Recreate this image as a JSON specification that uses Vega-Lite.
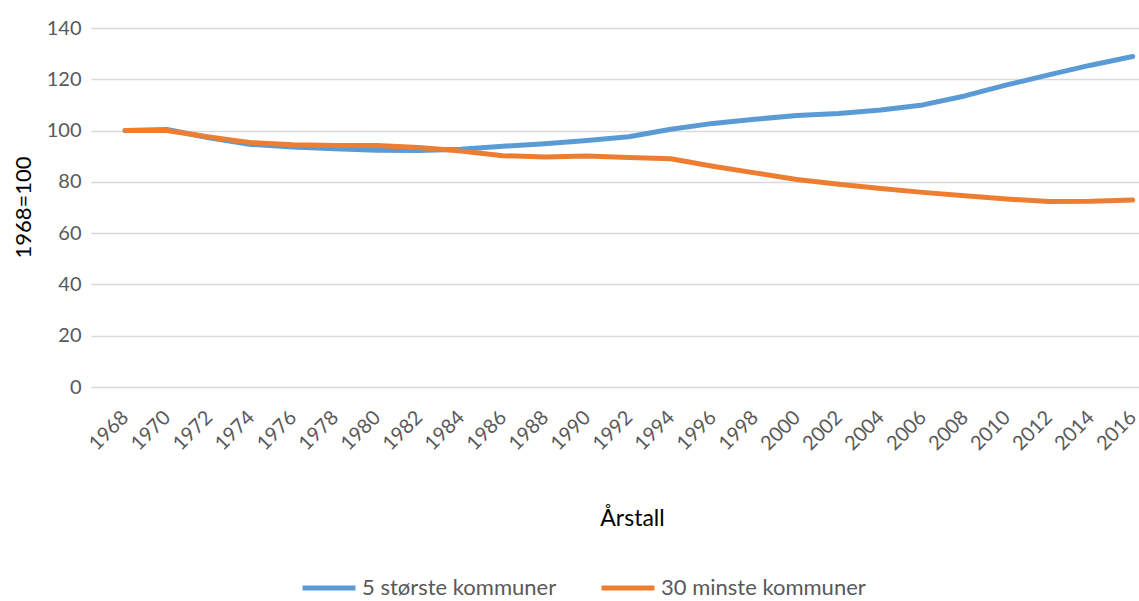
{
  "$schema": "https://vega.github.io/schema/vega-lite/v6.json",
  "autosize": {"type": "none"},
  "padding": {"left": 91, "top": 28, "right": 0, "bottom": 214},
  "width": 1048,
  "height": 359,
  "background": "white",
  "config": {
    "view": {"stroke": null},
    "font": "Lato",
    "axis": {"labelFont": "Lato", "titleFont": "Lato"},
    "legend": {"labelFont": "Lato"}
  },
  "data": {
    "values": [
      {"year": 1968, "series": "5 største kommuner", "value": 100.0},
      {"year": 1970, "series": "5 største kommuner", "value": 100.4},
      {"year": 1972, "series": "5 største kommuner", "value": 97.2},
      {"year": 1974, "series": "5 største kommuner", "value": 94.6},
      {"year": 1976, "series": "5 største kommuner", "value": 93.6},
      {"year": 1978, "series": "5 største kommuner", "value": 92.9},
      {"year": 1980, "series": "5 største kommuner", "value": 92.3},
      {"year": 1982, "series": "5 største kommuner", "value": 92.2},
      {"year": 1984, "series": "5 største kommuner", "value": 92.7},
      {"year": 1986, "series": "5 største kommuner", "value": 93.9},
      {"year": 1988, "series": "5 største kommuner", "value": 94.9},
      {"year": 1990, "series": "5 største kommuner", "value": 96.1},
      {"year": 1992, "series": "5 største kommuner", "value": 97.6},
      {"year": 1994, "series": "5 største kommuner", "value": 100.5},
      {"year": 1996, "series": "5 største kommuner", "value": 102.8},
      {"year": 1998, "series": "5 største kommuner", "value": 104.4},
      {"year": 2000, "series": "5 største kommuner", "value": 105.9},
      {"year": 2002, "series": "5 største kommuner", "value": 106.7},
      {"year": 2004, "series": "5 største kommuner", "value": 108.0},
      {"year": 2006, "series": "5 største kommuner", "value": 110.0},
      {"year": 2008, "series": "5 største kommuner", "value": 113.5},
      {"year": 2010, "series": "5 største kommuner", "value": 117.8},
      {"year": 2012, "series": "5 største kommuner", "value": 121.7},
      {"year": 2014, "series": "5 største kommuner", "value": 125.5},
      {"year": 2016, "series": "5 største kommuner", "value": 128.9},
      {"year": 1968, "series": "30 minste kommuner", "value": 100.0},
      {"year": 1970, "series": "30 minste kommuner", "value": 100.0},
      {"year": 1972, "series": "30 minste kommuner", "value": 97.5},
      {"year": 1974, "series": "30 minste kommuner", "value": 95.3},
      {"year": 1976, "series": "30 minste kommuner", "value": 94.5},
      {"year": 1978, "series": "30 minste kommuner", "value": 94.2},
      {"year": 1980, "series": "30 minste kommuner", "value": 94.2},
      {"year": 1982, "series": "30 minste kommuner", "value": 93.4},
      {"year": 1984, "series": "30 minste kommuner", "value": 92.0},
      {"year": 1986, "series": "30 minste kommuner", "value": 90.2},
      {"year": 1988, "series": "30 minste kommuner", "value": 89.7},
      {"year": 1990, "series": "30 minste kommuner", "value": 90.1},
      {"year": 1992, "series": "30 minste kommuner", "value": 89.5},
      {"year": 1994, "series": "30 minste kommuner", "value": 89.0},
      {"year": 1996, "series": "30 minste kommuner", "value": 86.1},
      {"year": 1998, "series": "30 minste kommuner", "value": 83.5},
      {"year": 2000, "series": "30 minste kommuner", "value": 80.9},
      {"year": 2002, "series": "30 minste kommuner", "value": 79.1},
      {"year": 2004, "series": "30 minste kommuner", "value": 77.4},
      {"year": 2006, "series": "30 minste kommuner", "value": 75.9},
      {"year": 2008, "series": "30 minste kommuner", "value": 74.6},
      {"year": 2010, "series": "30 minste kommuner", "value": 73.3},
      {"year": 2012, "series": "30 minste kommuner", "value": 72.3},
      {"year": 2014, "series": "30 minste kommuner", "value": 72.4},
      {"year": 2016, "series": "30 minste kommuner", "value": 72.9}
    ]
  },
  "mark": {"type": "line", "strokeWidth": 5, "strokeCap": "round", "strokeJoin": "round"},
  "encoding": {
    "x": {
      "field": "year",
      "type": "quantitative",
      "scale": {"domain": [1966.38, 2016.3], "nice": false, "zero": false},
      "axis": {
        "values": [1968, 1970, 1972, 1974, 1976, 1978, 1980, 1982, 1984, 1986, 1988, 1990, 1992, 1994, 1996, 1998, 2000, 2002, 2004, 2006, 2008, 2010, 2012, 2014, 2016],
        "format": "d",
        "labelAngle": -45,
        "labelAlign": "right",
        "labelBaseline": "middle",
        "labelPadding": 27,
        "labelOffset": 0,
        "labelFontSize": 20,
        "labelColor": "#595959",
        "labelOverlap": false,
        "labelFlush": false,
        "grid": false,
        "domain": false,
        "ticks": false,
        "title": "Årstall",
        "titleFontSize": 23,
        "titleFontWeight": "normal",
        "titleColor": "#000000",
        "titleX": 541,
        "titleY": 138,
        "titleAlign": "center",
        "titleBaseline": "alphabetic"
      }
    },
    "y": {
      "field": "value",
      "type": "quantitative",
      "scale": {"domain": [0, 140], "nice": false},
      "axis": {
        "values": [0, 20, 40, 60, 80, 100, 120, 140],
        "labelFontSize": 20,
        "labelColor": "#595959",
        "labelPadding": 10,
        "grid": true,
        "gridColor": "#D9D9D9",
        "gridWidth": 1.3,
        "domain": false,
        "ticks": false,
        "title": "1968=100",
        "titleFontSize": 22,
        "titleFontWeight": "normal",
        "titleColor": "#000000",
        "titleAngle": -90,
        "titleX": -68,
        "titleY": 179,
        "titleAlign": "center",
        "titleBaseline": "middle"
      }
    },
    "color": {
      "field": "series",
      "type": "nominal",
      "scale": {"domain": ["5 største kommuner", "30 minste kommuner"], "range": ["#5B9BD5", "#ED7D31"]},
      "legend": {
        "title": null,
        "orient": "none",
        "direction": "horizontal",
        "legendX": 209,
        "legendY": 531,
        "symbolType": "stroke",
        "symbolSize": 2800,
        "symbolStrokeWidth": 5,
        "labelFontSize": 22,
        "labelColor": "#595959",
        "labelOffset": 4,
        "labelLimit": 400,
        "columnPadding": 34
      }
    }
  }
}
